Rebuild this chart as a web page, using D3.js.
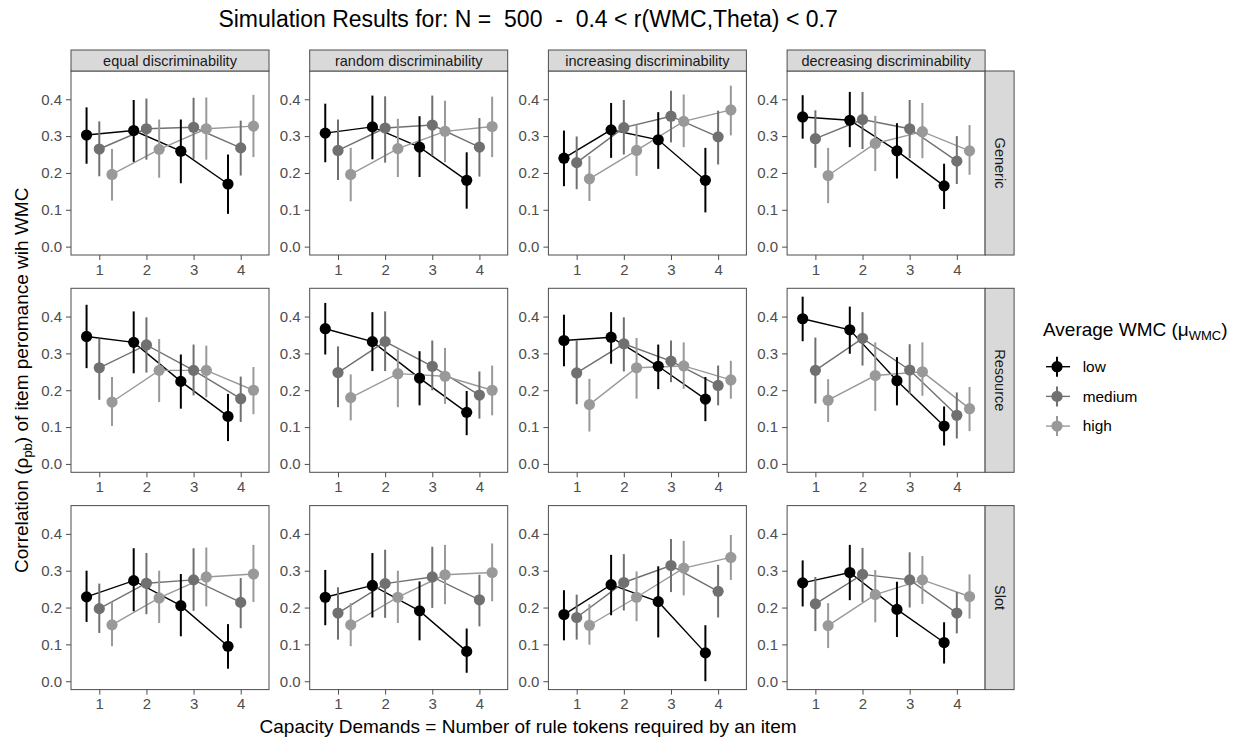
<!DOCTYPE html>
<html>
<head>
<meta charset="utf-8">
<script src="https://cdn.jsdelivr.net/npm/d3@7"></script>
<style>
  body { margin: 0; background: #fff; }
  svg { font-family: "Liberation Sans", Arial, sans-serif; }
  text { white-space: pre; }
</style>
</head>
<body>
<svg id="chart" width="1242" height="738"></svg>
<script>
const columns = ["equal discriminability", "random discriminability", "increasing discriminability", "decreasing discriminability"];
const rows = ["Generic", "Resource", "Slot"];
const groups = ["low", "medium", "high"];
const demands = [1, 2, 3, 4];
const yTicks = [0, 0.1, 0.2, 0.3, 0.4];

// [column][group][demand]
const genericEst = [
  [[0.303, 0.315, 0.259, 0.170], [0.265, 0.320, 0.324, 0.268], [0.196, 0.264, 0.320, 0.327]],
  [[0.308, 0.325, 0.270, 0.180], [0.261, 0.322, 0.330, 0.270], [0.196, 0.266, 0.313, 0.326]],
  [[0.240, 0.317, 0.290, 0.180], [0.228, 0.323, 0.354, 0.298], [0.184, 0.261, 0.340, 0.371]],
  [[0.352, 0.343, 0.260, 0.165], [0.293, 0.345, 0.320, 0.232], [0.193, 0.280, 0.312, 0.260]]
];
const genericLo = [
  [[0.225, 0.230, 0.172, 0.089], [0.191, 0.236, 0.238, 0.193], [0.125, 0.187, 0.236, 0.243]],
  [[0.229, 0.237, 0.189, 0.103], [0.181, 0.228, 0.247, 0.190], [0.123, 0.189, 0.229, 0.243]],
  [[0.164, 0.241, 0.211, 0.093], [0.156, 0.250, 0.283, 0.223], [0.124, 0.192, 0.270, 0.302]],
  [[0.293, 0.270, 0.185, 0.102], [0.214, 0.265, 0.240, 0.170], [0.118, 0.205, 0.240, 0.195]]
];
const genericHi = [
  [[0.378, 0.398, 0.345, 0.250], [0.340, 0.402, 0.404, 0.342], [0.265, 0.345, 0.405, 0.412]],
  [[0.388, 0.410, 0.354, 0.256], [0.345, 0.408, 0.410, 0.349], [0.268, 0.347, 0.396, 0.407]],
  [[0.315, 0.390, 0.365, 0.268], [0.299, 0.398, 0.423, 0.369], [0.246, 0.331, 0.413, 0.437]],
  [[0.411, 0.420, 0.335, 0.225], [0.370, 0.420, 0.398, 0.300], [0.268, 0.355, 0.390, 0.330]]
];

const resourceEst = [
  [[0.346, 0.330, 0.224, 0.129], [0.261, 0.323, 0.254, 0.177], [0.168, 0.254, 0.254, 0.200]],
  [[0.367, 0.332, 0.233, 0.140], [0.248, 0.332, 0.265, 0.187], [0.180, 0.245, 0.238, 0.200]],
  [[0.335, 0.344, 0.265, 0.176], [0.247, 0.326, 0.279, 0.213], [0.161, 0.261, 0.266, 0.228]],
  [[0.394, 0.364, 0.226, 0.103], [0.254, 0.341, 0.255, 0.132], [0.173, 0.240, 0.250, 0.150]]
];
const resourceLo = [
  [[0.260, 0.246, 0.150, 0.062], [0.174, 0.248, 0.186, 0.114], [0.103, 0.168, 0.181, 0.135]],
  [[0.297, 0.252, 0.159, 0.078], [0.154, 0.252, 0.200, 0.123], [0.118, 0.154, 0.163, 0.132]],
  [[0.265, 0.272, 0.203, 0.116], [0.162, 0.251, 0.222, 0.159], [0.088, 0.177, 0.204, 0.177]],
  [[0.333, 0.299, 0.159, 0.050], [0.164, 0.267, 0.190, 0.069], [0.114, 0.144, 0.185, 0.089]]
];
const resourceHi = [
  [[0.432, 0.414, 0.297, 0.190], [0.340, 0.398, 0.324, 0.237], [0.236, 0.339, 0.321, 0.263]],
  [[0.437, 0.412, 0.306, 0.198], [0.319, 0.414, 0.335, 0.251], [0.243, 0.310, 0.315, 0.267]],
  [[0.405, 0.412, 0.324, 0.236], [0.335, 0.398, 0.335, 0.267], [0.231, 0.342, 0.330, 0.280]],
  [[0.454, 0.427, 0.290, 0.156], [0.343, 0.412, 0.325, 0.194], [0.230, 0.330, 0.330, 0.209]]
];

const slotEst = [
  [[0.229, 0.273, 0.205, 0.095], [0.197, 0.266, 0.275, 0.214], [0.153, 0.226, 0.283, 0.291]],
  [[0.228, 0.260, 0.191, 0.081], [0.185, 0.265, 0.283, 0.221], [0.153, 0.228, 0.289, 0.295]],
  [[0.181, 0.262, 0.216, 0.077], [0.173, 0.268, 0.314, 0.244], [0.152, 0.228, 0.307, 0.336]],
  [[0.267, 0.295, 0.195, 0.105], [0.210, 0.290, 0.275, 0.185], [0.151, 0.235, 0.275, 0.230]]
];
const slotLo = [
  [[0.161, 0.190, 0.122, 0.034], [0.131, 0.182, 0.191, 0.144], [0.095, 0.158, 0.203, 0.215]],
  [[0.152, 0.173, 0.111, 0.023], [0.113, 0.172, 0.199, 0.149], [0.095, 0.158, 0.209, 0.217]],
  [[0.111, 0.179, 0.119, 0.000], [0.113, 0.192, 0.242, 0.173], [0.099, 0.163, 0.233, 0.275]],
  [[0.203, 0.220, 0.120, 0.048], [0.136, 0.215, 0.200, 0.130], [0.090, 0.160, 0.210, 0.170]]
];
const slotHi = [
  [[0.300, 0.361, 0.291, 0.155], [0.265, 0.348, 0.361, 0.280], [0.215, 0.300, 0.363, 0.370]],
  [[0.302, 0.348, 0.271, 0.143], [0.255, 0.357, 0.365, 0.289], [0.212, 0.300, 0.370, 0.374]],
  [[0.247, 0.343, 0.312, 0.152], [0.235, 0.345, 0.386, 0.316], [0.209, 0.298, 0.381, 0.397]],
  [[0.328, 0.370, 0.270, 0.160], [0.283, 0.362, 0.350, 0.242], [0.212, 0.302, 0.340, 0.290]]
];

const estByRow = [genericEst, resourceEst, slotEst];
const loByRow = [genericLo, resourceLo, slotLo];
const hiByRow = [genericHi, resourceHi, slotHi];

// layout
const panelW = 198, panelH = 184;
const panelLeft0 = 71, panelStepX = 238.7;
const panelTop0 = 71, panelStepY = 217.3;
const stripH = 21, sideStripW = 29;
const dodge = 0.27;
const border = "#4d4d4d";
const tickText = "#4d4d4d";

const color = d3.scaleOrdinal().domain(groups).range(["#000000", "#707070", "#999999"]);
const offset = d3.scaleOrdinal().domain(groups).range([-dodge, 0, dodge]);

// y domain from data extent with 5% expansion, like ggplot
const allLo = d3.min(loByRow.flat(3));
const allHi = d3.max(hiByRow.flat(3));
const pad = (allHi - allLo) * 0.05;
const x = d3.scaleLinear().domain([0.4, 4.6]).range([0, panelW]);
const y = d3.scaleLinear().domain([allLo - pad, allHi + pad]).range([panelH, 0]);

const svg = d3.select("#chart");

// title
svg.append("text")
  .attr("x", panelLeft0 + (3 * panelStepX + panelW) / 2)
  .attr("y", 26.5)
  .attr("text-anchor", "middle")
  .style("font-size", "23px")
  .text("Simulation Results for: N =  500  -  0.4 < r(WMC,Theta) < 0.7");

rows.forEach((rowName, r) => {
  columns.forEach((colName, c) => {
    const left = panelLeft0 + c * panelStepX;
    const top = panelTop0 + r * panelStepY;
    const g = svg.append("g").attr("transform", "translate(" + left + "," + top + ")");

    // panel background
    g.append("rect").attr("width", panelW).attr("height", panelH).attr("fill", "#fff");

    // axes
    const yAxis = g.append("g")
      .call(d3.axisLeft(y).tickValues(yTicks).tickSize(5).tickPadding(4).tickFormat(d3.format(".1f")));
    const xAxis = g.append("g")
      .attr("transform", "translate(0," + panelH + ")")
      .call(d3.axisBottom(x).tickValues(demands).tickSize(5).tickPadding(4).tickFormat(d3.format("d")));
    [yAxis, xAxis].forEach((ax) => {
      ax.select(".domain").remove();
      ax.selectAll("line").attr("stroke", border);
      ax.selectAll("text")
        .attr("fill", tickText)
        .style("font-size", "15px")
        .style("font-family", "'Liberation Sans', Arial, sans-serif");
    });

    const est = estByRow[r][c];
    const lo = loByRow[r][c];
    const hi = hiByRow[r][c];

    const line = d3.line().x((d) => x(d.x)).y((d) => y(d.v));

    groups.forEach((grp, k) => {
      const pts = demands.map((d, i) => ({ x: d + offset(grp), v: est[k][i], lo: lo[k][i], hi: hi[k][i] }));
      g.append("path")
        .datum(pts)
        .attr("d", line)
        .attr("fill", "none")
        .attr("stroke", color(grp))
        .attr("stroke-width", 1.4);
    });

    groups.forEach((grp, k) => {
      const pts = demands.map((d, i) => ({ x: d + offset(grp), v: est[k][i], lo: lo[k][i], hi: hi[k][i] }));
      g.selectAll(null)
        .data(pts)
        .enter()
        .append("line")
        .attr("x1", (d) => x(d.x))
        .attr("x2", (d) => x(d.x))
        .attr("y1", (d) => y(d.lo))
        .attr("y2", (d) => y(d.hi))
        .attr("stroke", color(grp))
        .attr("stroke-width", 2);
      g.selectAll(null)
        .data(pts)
        .enter()
        .append("circle")
        .attr("cx", (d) => x(d.x))
        .attr("cy", (d) => y(d.v))
        .attr("r", 5.6)
        .attr("fill", color(grp));
    });

    // panel border
    g.append("rect")
      .attr("width", panelW)
      .attr("height", panelH)
      .attr("fill", "none")
      .attr("stroke", border)
      .attr("stroke-width", 1);

    // top strip
    if (r === 0) {
      g.append("rect")
        .attr("y", -stripH)
        .attr("width", panelW)
        .attr("height", stripH)
        .attr("fill", "#d9d9d9")
        .attr("stroke", border)
        .attr("stroke-width", 1);
      g.append("text")
        .attr("x", panelW / 2)
        .attr("y", -stripH / 2)
        .attr("dy", "0.35em")
        .attr("text-anchor", "middle")
        .attr("fill", "#1a1a1a")
        .style("font-size", "14.5px")
        .text(colName);
    }

    // right strip
    if (c === columns.length - 1) {
      g.append("rect")
        .attr("x", panelW)
        .attr("width", sideStripW)
        .attr("height", panelH)
        .attr("fill", "#d9d9d9")
        .attr("stroke", border)
        .attr("stroke-width", 1);
      g.append("text")
        .attr("transform", "translate(" + (panelW + sideStripW / 2) + "," + panelH / 2 + ") rotate(90)")
        .attr("dy", "0.35em")
        .attr("text-anchor", "middle")
        .attr("fill", "#1a1a1a")
        .style("font-size", "14.5px")
        .text(rowName);
    }
  });
});

// axis titles
const panelsCenterX = panelLeft0 + (3 * panelStepX + panelW) / 2;
svg.append("text")
  .attr("x", panelsCenterX)
  .attr("y", 733)
  .attr("text-anchor", "middle")
  .style("font-size", "19px")
  .text("Capacity Demands = Number of rule tokens required by an item");

const yLab = svg.append("text")
  .attr("transform", "translate(28," + (panelTop0 + (2 * panelStepY + panelH) / 2) + ") rotate(-90)")
  .attr("text-anchor", "middle")
  .style("font-size", "19px");
yLab.append("tspan").text("Correlation (ρ");
yLab.append("tspan").attr("dy", 4).style("font-size", "13px").text("pb");
yLab.append("tspan").attr("dy", -4).text(") of item peromance wih WMC");

// legend
const legend = svg.append("g").attr("transform", "translate(1043,0)");
const lt = legend.append("text").attr("y", 336).style("font-size", "19px");
lt.append("tspan").text("Average WMC (μ");
lt.append("tspan").attr("dy", 4).style("font-size", "13px").text("WMC");
lt.append("tspan").attr("dy", -4).text(")");

const keys = legend.selectAll(".key")
  .data(groups)
  .enter()
  .append("g")
  .attr("class", "key")
  .attr("transform", (d, i) => "translate(14," + (366.7 + i * 29.7) + ")");
keys.append("line").attr("x1", -11).attr("x2", 13).attr("stroke", (d) => color(d)).attr("stroke-width", 1.4);
keys.append("line").attr("y1", -10).attr("y2", 10).attr("stroke", (d) => color(d)).attr("stroke-width", 2);
keys.append("circle").attr("r", 5.6).attr("fill", (d) => color(d));
keys.append("text")
  .attr("x", 25.7)
  .attr("dy", "0.35em")
  .attr("fill", "#000")
  .style("font-size", "15.4px")
  .text((d) => d);
</script>
</body>
</html>
